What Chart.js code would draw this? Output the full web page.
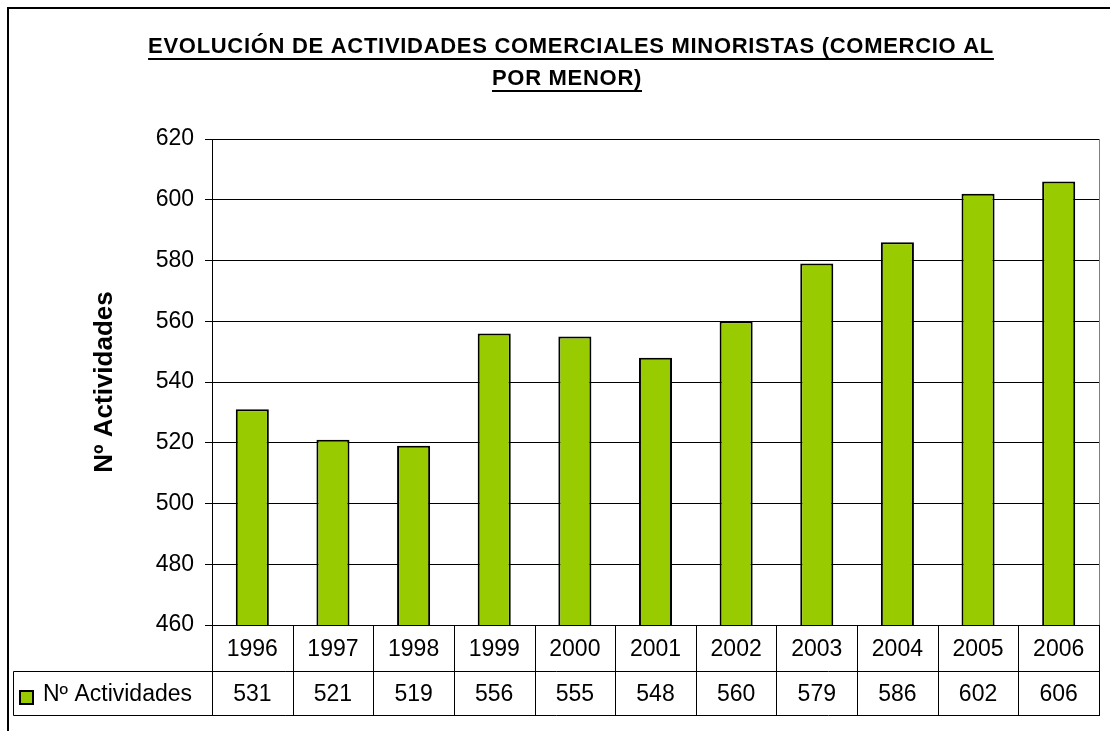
<!DOCTYPE html>
<html>
<head>
<meta charset="utf-8">
<title>Evolución de actividades comerciales minoristas</title>
<script src="https://cdn.jsdelivr.net/npm/chart.js@4.4.1/dist/chart.umd.min.js"></script>
<style>
	html, body { margin: 0; padding: 0; background: #fff; }
</style>
</head>
<body>
<canvas id="myChart" width="1110" height="731"></canvas>
<script>
// DATA
const years = ["1996", "1997", "1998", "1999", "2000", "2001", "2002", "2003", "2004", "2005", "2006"];
const actividades = [531, 521, 519, 556, 555, 548, 560, 579, 586, 602, 606];
const yTicks = [460, 480, 500, 520, 540, 560, 580, 600, 620];
const seriesName = "Nº Actividades";
const titleLines = ["EVOLUCIÓN DE ACTIVIDADES COMERCIALES MINORISTAS (COMERCIO AL", "POR MENOR)"];

const FONT = "'Liberation Sans', Arial, sans-serif";
const GREEN = "#99CC00";

// FRAME, TITLE AND DATA TABLE
const excelPlugin = {
	id: "excel",
	beforeDraw(chart) {
		const ctx = chart.ctx;
		ctx.save();
		ctx.fillStyle = "#fff";
		ctx.fillRect(0, 0, chart.width, chart.height);
		ctx.fillStyle = "#000";
		ctx.fillRect(7, 7, chart.width - 7, 2);
		ctx.fillRect(7, 7, 2, chart.height - 7);
		ctx.restore();
	},
	afterDraw(chart) {
		const ctx = chart.ctx;
		const area = chart.chartArea;
		const xs = chart.scales.x;
		ctx.save();

		// title, underlined
		ctx.font = "bold 22px " + FONT;
		ctx.letterSpacing = "0.7px";
		ctx.fillStyle = "#000";
		ctx.textAlign = "left";
		ctx.textBaseline = "alphabetic";
		const centers = [571, 567];
		const baselines = [53, 85];
		titleLines.forEach((t, i) => {
			const w = ctx.measureText(t).width;
			const x0 = centers[i] - w / 2;
			ctx.fillText(t, x0, baselines[i]);
			ctx.fillRect(x0, baselines[i] + 5, w, 2);
		});
		ctx.letterSpacing = "0px";

		// right edge of plot area
		ctx.strokeStyle = "#808080";
		ctx.lineWidth = 1;
		ctx.beginPath();
		ctx.moveTo(Math.round(area.right) + 0.5, area.top);
		ctx.lineTo(Math.round(area.right) + 0.5, area.bottom);
		ctx.stroke();

		// data table
		const colW = (area.right - area.left) / years.length;
		const r1 = Math.round(area.bottom) + 0.5;
		const r2 = r1 + 46;
		const r3 = r2 + 44;
		const legLeft = 13.5;
		ctx.strokeStyle = "#000";
		ctx.beginPath();
		ctx.moveTo(area.left, r1); ctx.lineTo(area.right + 1, r1);
		ctx.moveTo(legLeft, r2); ctx.lineTo(area.right + 1, r2);
		ctx.moveTo(legLeft, r3); ctx.lineTo(area.right + 1, r3);
		ctx.moveTo(legLeft, r2); ctx.lineTo(legLeft, r3);
		for (let i = 0; i <= years.length; i++) {
			const xi = Math.round(area.left + i * colW) + 0.5;
			ctx.moveTo(xi, r1); ctx.lineTo(xi, r3);
		}
		ctx.stroke();

		ctx.font = "23px " + FONT;
		ctx.textAlign = "center";
		ctx.textBaseline = "middle";
		years.forEach((y, i) => {
			const cx = xs.getPixelForValue(i);
			ctx.fillText(y, cx, (r1 + r2) / 2 + 1);
			ctx.fillText(String(actividades[i]), cx, (r2 + r3) / 2 + 1);
		});

		// legend key
		ctx.fillStyle = GREEN;
		ctx.fillRect(20, 691, 13, 13);
		ctx.strokeStyle = "#000";
		ctx.lineWidth = 2;
		ctx.strokeRect(20, 691, 13, 13);
		ctx.fillStyle = "#000";
		ctx.textAlign = "left";
		ctx.fillText(seriesName, 43, (r2 + r3) / 2 + 1);
		ctx.restore();
	}
};

// CONFIG
const data = {
	labels: years,
	datasets: [
		{
			label: seriesName,
			data: actividades,
			backgroundColor: GREEN,
			borderColor: "#000",
			borderWidth: 2,
			barPercentage: 0.41,
			categoryPercentage: 1,
		},
	],
};

const config = {
	type: "bar",
	data: data,
	options: {
		responsive: false,
		animation: false,
		layout: { padding: { left: 0, top: 139, right: 11, bottom: 106 } },
		plugins: {
			legend: { display: false },
			tooltip: { enabled: false },
		},
		scales: {
			x: { display: false },
			y: {
				min: yTicks[0],
				max: yTicks[yTicks.length - 1],
				afterBuildTicks: (s) => { s.ticks = yTicks.map((v) => ({ value: v })); },
				afterFit: (s) => { s.width = 212; },
				ticks: { color: "#000", font: { family: FONT, size: 23 }, padding: 11 },
				grid: { color: "#000", lineWidth: 1, tickLength: 7, drawTicks: true },
				border: { display: true, color: "#000", width: 1 },
				title: {
					display: true,
					text: seriesName,
					color: "#000",
					font: { family: FONT, size: 26, weight: "bold" },
					padding: { top: 89, bottom: 0 },
				},
			},
		},
	},
	plugins: [excelPlugin],
};

// RENDER
var myChart = new Chart(document.getElementById("myChart"), config);
</script>
</body>
</html>
